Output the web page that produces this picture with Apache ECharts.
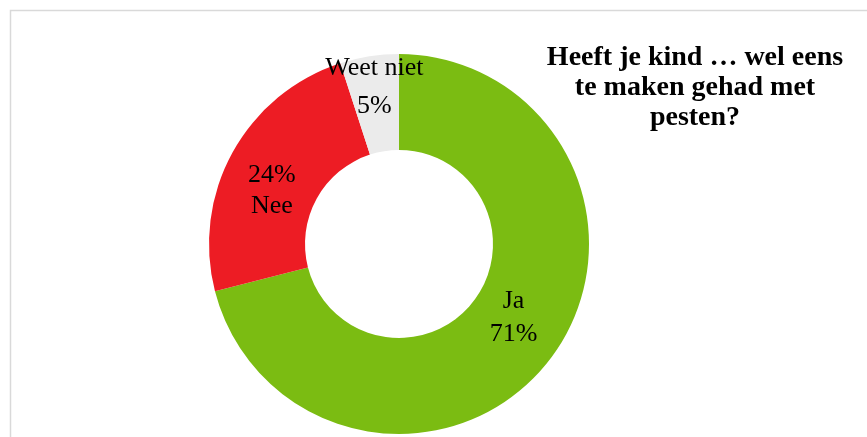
<!DOCTYPE html>
<html>
<head>
<meta charset="utf-8">
<script src="https://cdn.jsdelivr.net/npm/echarts@6/dist/echarts.min.js"></script>
<style>html,body{margin:0;padding:0;background:#fff;}#c{width:867px;height:437px;}</style>
</head>
<body>
<div id="c"></div>
<script>
var categories = ['Ja', 'Nee', 'Weet niet'];
var values = [71, 24, 5];
var colors = ['#7BBC12', '#ED1C24', '#EBEBEB'];
var titleText = 'Heeft je kind … wel eens\nte maken gehad met\npesten?';

var labelFormats = ['{b}\n{c}%', '{c}%\n{b}', '{b}\n{c}%'];
var labelOffsets = [[0, -15], [0, 17], [-2, -14]];
var labelLineHeights = [33, 31, 38];

var chart = echarts.init(document.getElementById('c'), null, {renderer: 'canvas'});
var data = categories.map(function (name, i) {
  return {
    name: name,
    value: values[i],
    itemStyle: {color: colors[i]},
    label: {formatter: labelFormats[i], offset: labelOffsets[i], lineHeight: labelLineHeights[i]}
  };
});
chart.setOption({
  animation: false,
  backgroundColor: '#ffffff',
  title: {
    text: titleText,
    left: 690,
    top: 38,
    textAlign: 'center',
    textStyle: {fontFamily: 'Liberation Serif', fontWeight: 'bold', fontSize: 28, lineHeight: 30, color: '#000'}
  },
  graphic: [{
    type: 'rect',
    shape: {x: 10.5, y: 10.5, width: 900, height: 500},
    style: {fill: 'none', stroke: '#D9D9D9', lineWidth: 1.5},
    silent: true
  }],
  series: [{
    type: 'pie',
    center: [399, 244],
    radius: [94, 190],
    startAngle: 90,
    clockwise: true,
    avoidLabelOverlap: false,
    label: {
      show: true,
      position: 'inside',
      color: '#000',
      fontFamily: 'Liberation Serif',
      fontSize: 26,
      align: 'center'
    },
    labelLine: {show: false},
    emphasis: {disabled: true},
    data: data
  }]
});
</script>
</body>
</html>
